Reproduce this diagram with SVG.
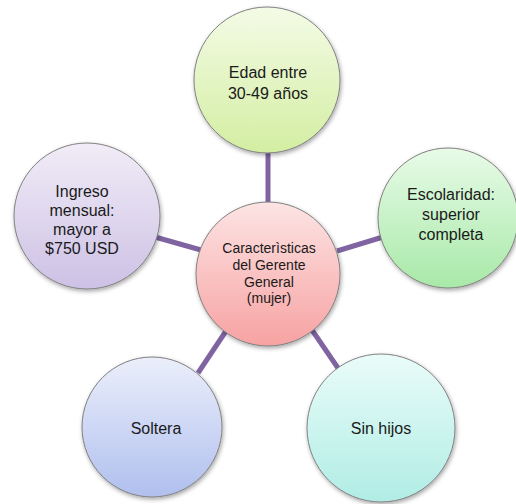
<svg xmlns="http://www.w3.org/2000/svg" width="516" height="504" viewBox="0 0 516 504">
<defs>
<style>
.node{stroke:#808080;stroke-width:1;filter:url(#sh)}
.conn{stroke:#8064a2;stroke-width:5;fill:none}
text{font-family:"Liberation Sans",Arial,sans-serif;fill:#1a1a1a;text-anchor:middle}
.o{font-size:16px}
.c{font-size:14px}
</style>
<filter id="sh" x="-20%" y="-20%" width="140%" height="140%">
<feDropShadow dx="1" dy="2" stdDeviation="2" flood-color="#000" flood-opacity="0.35"/>
</filter>
<linearGradient id="gTop" x1="0" y1="0" x2="0" y2="1"><stop offset="0" stop-color="#f4fbe6"/><stop offset="1" stop-color="#d3eea2"/></linearGradient>
<linearGradient id="gCen" x1="0" y1="0" x2="0" y2="1"><stop offset="0" stop-color="#fde4e4"/><stop offset="1" stop-color="#f7a2a2"/></linearGradient>
<linearGradient id="gLeft" x1="0" y1="0" x2="0" y2="1"><stop offset="0" stop-color="#f1ecf7"/><stop offset="1" stop-color="#cdc1e5"/></linearGradient>
<linearGradient id="gRight" x1="0" y1="0" x2="0" y2="1"><stop offset="0" stop-color="#e8fbe8"/><stop offset="1" stop-color="#a8e9a8"/></linearGradient>
<linearGradient id="gSol" x1="0" y1="0" x2="0" y2="1"><stop offset="0" stop-color="#ebeffb"/><stop offset="1" stop-color="#b0bfee"/></linearGradient>
<linearGradient id="gSin" x1="0" y1="0" x2="0" y2="1"><stop offset="0" stop-color="#eafcf9"/><stop offset="1" stop-color="#b0ede5"/></linearGradient>
</defs>
<g id="connectors">
<line class="conn" x1="268" y1="150" x2="268" y2="205"/>
<line class="conn" x1="155" y1="237" x2="201" y2="250"/>
<line class="conn" x1="337" y1="251" x2="383" y2="237"/>
<line class="conn" x1="226" y1="331" x2="198" y2="373"/>
<line class="conn" x1="312" y1="330" x2="340" y2="371"/>
</g>
<g id="node-top">
<circle class="node" cx="267" cy="80" r="73" fill="url(#gTop)"/>
<text class="o" x="268" y="78">Edad entre</text>
<text class="o" x="268" y="99">30-49 años</text>
</g>
<g id="node-left">
<circle class="node" cx="87" cy="216" r="73" fill="url(#gLeft)"/>
<text class="o" x="82" y="197">Ingreso</text>
<text class="o" x="82" y="216">mensual:</text>
<text class="o" x="82" y="235">mayor a</text>
<text class="o" x="82" y="254">$750 USD</text>
</g>
<g id="node-right">
<circle class="node" cx="448" cy="218" r="70" fill="url(#gRight)"/>
<text class="o" x="451" y="200">Escolaridad:</text>
<text class="o" x="451" y="220">superior</text>
<text class="o" x="451" y="240">completa</text>
</g>
<g id="node-soltera">
<circle class="node" cx="152" cy="427" r="70" fill="url(#gSol)"/>
<text class="o" x="156" y="434">Soltera</text>
</g>
<g id="node-sinhijos">
<circle class="node" cx="381" cy="428" r="74" fill="url(#gSin)"/>
<text class="o" x="381" y="434">Sin hijos</text>
</g>
<g id="node-center">
<circle class="node" cx="268" cy="274" r="72" fill="url(#gCen)"/>
<text class="c" x="269" y="253">Caracterìsticas</text>
<text class="c" x="269" y="270">del Gerente</text>
<text class="c" x="269" y="287">General</text>
<text class="c" x="269" y="303">(mujer)</text>
</g>
</svg>
